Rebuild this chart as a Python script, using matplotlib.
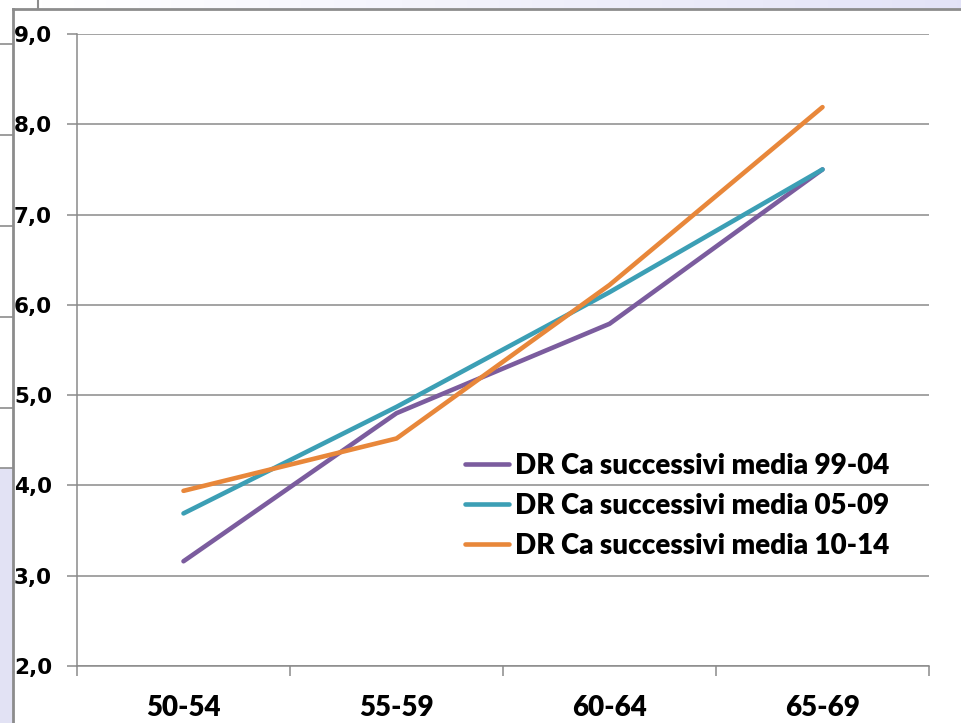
import numpy as np
import matplotlib
matplotlib.use("Agg")
import matplotlib.pyplot as plt
from matplotlib.patches import Rectangle
from matplotlib.lines import Line2D

# Age bands and rates
categories = ["50-54", "55-59", "60-64", "65-69"]
dr_99_04 = [3.16, 4.80, 5.79, 7.50]
dr_05_09 = [3.69, 4.87, 6.14, 7.50]
dr_10_14 = [3.94, 4.52, 6.22, 8.19]
series_labels = ["DR Ca successivi media 99-04",
                 "DR Ca successivi media 05-09",
                 "DR Ca successivi media 10-14"]
y_ticks = [2, 3, 4, 5, 6, 7, 8, 9]

colors = ["#7B5C9E", "#3C9FB5", "#E8873A"]

W, H = 961, 723
fig = plt.figure(figsize=(W / 100, H / 100), dpi=100)
fig.patch.set_facecolor("white")


def fx(px):
    return px / W


def fy(py):
    return 1 - py / H


# Slide frame around the chart panel
grad = np.linspace(0, 1, 256).reshape(1, -1)
band = np.dstack([np.interp(grad, [0, 1], [1.0, 0.89]),
                  np.interp(grad, [0, 1], [1.0, 0.89]),
                  np.interp(grad, [0, 1], [1.0, 0.97])])
top_ax = fig.add_axes([fx(38), fy(9), fx(W - 38), 9 / H])
top_ax.imshow(band, aspect="auto", extent=[0, 1, 0, 1])
top_ax.set_axis_off()

fig.add_artist(Rectangle((0, 0), fx(13), fy(468), transform=fig.transFigure,
                         facecolor="#E2E2F4", edgecolor="none", zorder=0))
for yy in [44, 135, 226, 317, 408, 468]:
    fig.add_artist(Line2D([0, fx(13)], [fy(yy), fy(yy)], transform=fig.transFigure,
                          color="#8C8C8C", lw=1.2))
fig.add_artist(Line2D([fx(13), fx(13)], [0, fy(9)], transform=fig.transFigure,
                      color="#8C8C8C", lw=2.0))
fig.add_artist(Line2D([fx(13), 1], [fy(9), fy(9)], transform=fig.transFigure,
                      color="#8C8C8C", lw=2.0))
fig.add_artist(Line2D([fx(38), fx(38)], [fy(9), 1], transform=fig.transFigure,
                      color="#8C8C8C", lw=1.5))

# Plot area
left, right, top, bottom = 77, 929, 34, 666
ax = fig.add_axes([fx(left), fy(bottom), fx(right - left), (bottom - top) / H])
ax.set_facecolor("none")

x = np.arange(len(categories))
for vals, col, lab in zip([dr_99_04, dr_05_09, dr_10_14], colors, series_labels):
    ax.plot(x, vals, color=col, lw=3.3, label=lab,
            solid_capstyle="round", solid_joinstyle="round", zorder=3)

ax.set_xlim(-0.5, len(categories) - 0.5)
ax.set_ylim(2, 9)

grid_col = "#8A8A8A"
ax.set_yticks(y_ticks)
ax.set_yticklabels([f"{v:.1f}".replace(".", ",") for v in y_ticks],
                   fontfamily="DejaVu Sans", fontweight="bold", fontsize=15.5)
ax.yaxis.grid(True, color=grid_col, lw=1.1)
ax.set_axisbelow(True)
ax.tick_params(axis="y", direction="out", length=7, width=1.1, color=grid_col,
               pad=11, labelcolor="black")

ax.set_xticks(x)
ax.set_xticklabels(categories, fontfamily="Lato", fontweight="heavy", fontsize=20)
ax.set_xticks(np.arange(-0.5, len(categories)), minor=True)
ax.tick_params(axis="x", which="major", length=0, pad=21, labelcolor="black")
ax.tick_params(axis="x", which="minor", direction="out", length=7, width=1.1,
               color=grid_col)

for s in ["top", "right"]:
    ax.spines[s].set_visible(False)
for s in ["left", "bottom"]:
    ax.spines[s].set_color(grid_col)
    ax.spines[s].set_linewidth(1.1)

ax.legend(loc="center left", bbox_to_anchor=(0.455, 0.253), frameon=False,
          prop={"family": "Lato", "weight": "heavy", "size": 20},
          handlelength=1.6, handletextpad=0.2, labelspacing=0.5,
          borderpad=0, borderaxespad=0)

fig.savefig("out.png", dpi=100)
